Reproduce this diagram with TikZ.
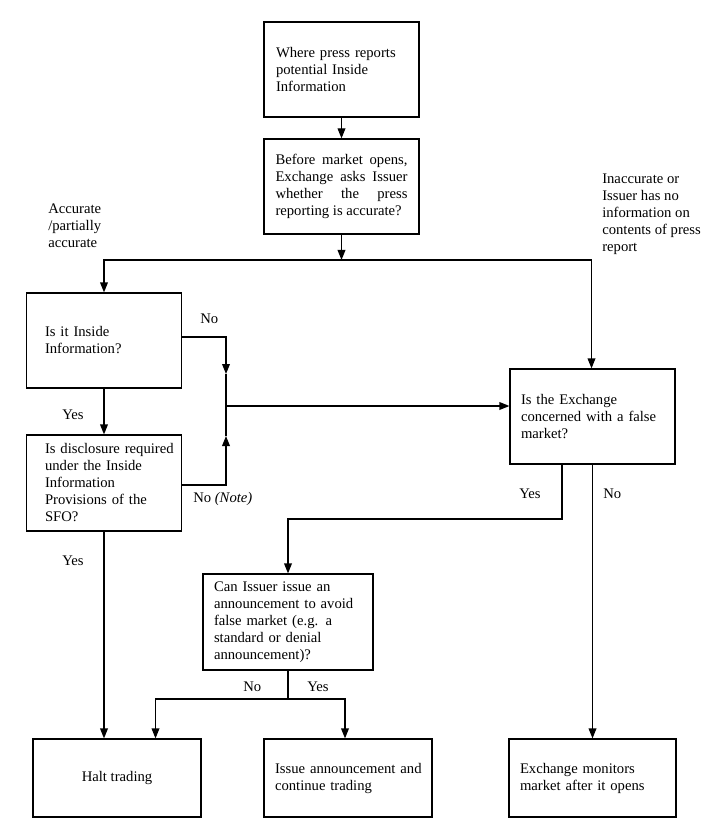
\documentclass[tikz,border=0pt]{standalone}
\usepackage{fontspec}
\setmainfont{Liberation Serif}
\usetikzlibrary{arrows.meta}
\begin{document}
\begin{tikzpicture}[x=0.75pt,y=-0.75pt,
  every node/.style={font=\fontsize{11pt}{12.75pt}\selectfont},
  box/.style={draw,line width=0.9pt,inner xsep=0pt,inner ysep=0pt,align=left,
    font=\fontsize{11pt}{12.75pt}\selectfont},
  lbl/.style={inner sep=0pt,anchor=west,align=left,
    font=\fontsize{11pt}{12.75pt}\selectfont},
  conn/.style={line width=0.9pt},
  arr/.style={line width=0.9pt,-{Triangle[length=7.5pt,width=5.8pt]}}]
\useasboundingbox (0,0) rectangle (713,823);

\node[box,minimum width=116.25pt,minimum height=71.25pt,text width=98.25pt] (top) at (341.5,69.5)
  {Where press reports\\potential Inside\\Information};
\node[box,minimum width=116.25pt,minimum height=71.25pt,text width=99pt,align=justify] (ask) at (341.5,186.5)
  {Before market opens,\linebreak Exchange asks Issuer\linebreak whether the press\linebreak reporting is accurate?\par\vspace{13pt}};
\node[box,minimum width=116.25pt,minimum height=71.25pt,text width=88.5pt] (inside) at (104,340.5)
  {Is it Inside\\Information?};
\node[box,minimum width=116.25pt,minimum height=72pt,text width=88.5pt] (disc) at (104,483)
  {\mbox{Is disclosure required}\\under the Inside\\Information\\Provisions of the\\SFO?};
\node[box,minimum width=123.75pt,minimum height=71.25pt,text width=107.25pt] (exch) at (592.5,416.5)
  {Is the Exchange\\\mbox{concerned with a false}\\market?};
\node[box,minimum width=127.5pt,minimum height=72pt,text width=111pt] (can) at (288,622)
  {Can Issuer issue an\\\mbox{announcement to avoid}\\false market (e.g. a\\standard or denial\\announcement)?};
\node[box,minimum width=126pt,minimum height=58.5pt,align=center] (halt) at (117,778)
  {Halt trading};
\node[box,minimum width=126pt,minimum height=58.5pt,text width=109.5pt] (issue) at (348,778)
  {\mbox{Issue announcement and}\\continue trading};
\node[box,minimum width=125.25pt,minimum height=58.5pt,text width=108.75pt] (mon) at (592.5,778)
  {Exchange monitors\\\mbox{market after it opens}};

% labels
\node[lbl] (lacc) at (48,226) {Accurate\\/partially\\accurate};
\node[lbl] (linacc) at (602,214) {Inaccurate or\\Issuer has no\\information on\\contents of press\\report};
\node[lbl] (lno1) at (200,319) {No};
\node[lbl] (lyes1) at (62,415) {Yes};
\node[lbl] (lno2) at (193,499) {No \textit{(Note)}};
\node[lbl] (lyes2) at (519,494) {Yes};
\node[lbl] (lno3) at (603,494) {No};
\node[lbl] (lyes3) at (62,561) {Yes};
\node[lbl] (lno4) at (243,687) {No};
\node[lbl] (lyes4) at (307,687) {Yes};

% coordinates
\coordinate (split) at (341.5,260);
\coordinate (sl) at (104,260);
\coordinate (sr) at (591.5,260);
\coordinate (ja) at (226,374);
\coordinate (jb) at (226,436);
\coordinate (jn) at (226,406);
\coordinate (ey) at (562,519);
\coordinate (cy) at (288,519);
\coordinate (bs) at (288,699);
\coordinate (bl) at (155.5,699);
\coordinate (br) at (345,699);

% connectors
\draw[arr] (top) -- (ask);
\draw[arr] (ask.south) -- (split);
\draw[arr] (sl) -- (sr) -- (sr |- exch.north);
\draw[arr] (split) -- (sl) -- (sl |- inside.north);
\draw[arr] (inside) -- (disc);
\draw[arr] (inside.east |- 0,337) -| (ja);
\draw[conn] (ja) -- (jn);
\draw[arr] (disc.east |- 0,485) -| (jb);
\draw[conn] (jb) -- (jn);
\draw[arr] (jn) -- (jn -| exch.west);
\draw[arr] (disc.south) -- (disc.south |- halt.north);
\draw[arr] (exch.south -| ey) -- (ey) -- (cy) -- (can.north);
\draw[arr] (exch.south) -- (mon.north);
\draw[conn] (can.south) -- (bs);
\draw[arr] (bs) -- (bl) -- (bl |- halt.north);
\draw[arr] (bs) -- (br) -- (br |- issue.north);
\end{tikzpicture}
\end{document}
